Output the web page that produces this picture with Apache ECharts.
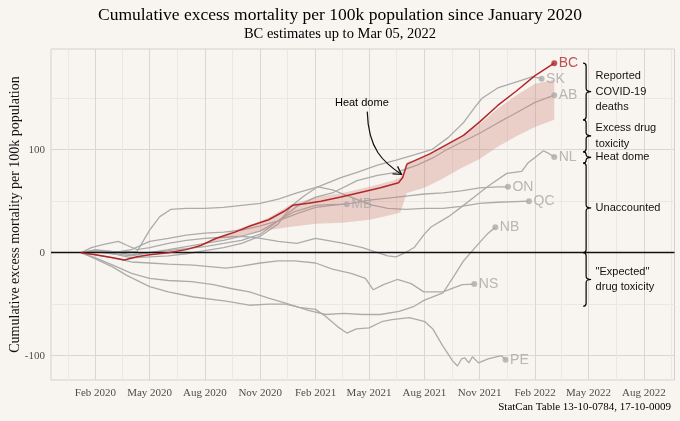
<!DOCTYPE html>
<html><head><meta charset="utf-8">
<script src="https://cdn.jsdelivr.net/npm/echarts@6/dist/echarts.min.js"></script>
<style>html,body{margin:0;padding:0;background:#f8f5f1}#c{width:680px;height:421px}</style>
</head><body><div id="c"></div>
<script>
const titleText = 'Cumulative excess mortality per 100k population since January 2020';
const subtitleText = 'BC estimates up to Mar 05, 2022';
const captionText = 'StatCan Table 13-10-0784, 17-10-0009';
const yAxisTitle = 'Cumulative excess mortality per 100k population';

const xTickDates = ['2020-02-01','2020-05-01','2020-08-01','2020-11-01','2021-02-01','2021-05-01','2021-08-01','2021-11-01','2022-02-01','2022-05-01','2022-08-01'];
const xTickLabels = ['Feb 2020','May 2020','Aug 2020','Nov 2020','Feb 2021','May 2021','Aug 2021','Nov 2021','Feb 2022','May 2022','Aug 2022'];
const xMinorDates = ['2019-12-17','2020-03-17','2020-06-16','2020-09-16','2020-12-16','2021-03-17','2021-06-16','2021-09-16','2021-12-16','2022-03-17','2022-06-16','2022-09-16'];
const xRange = ['2019-11-19','2022-09-21'];
const yTicks = [-100, 0, 100];
const yMinorTicks = [-50, 50, 150];
const yRange = [-123.6, 197.8];

const BC = [['2020-01-08',0],['2020-02-01',-2],['2020-03-01',-5],['2020-03-20',-7],['2020-04-10',-4],['2020-05-01',-2],['2020-06-01',0],['2020-07-01',3],['2020-07-25',7],['2020-08-20',14],['2020-09-20',20],['2020-10-15',26],['2020-11-15',32],['2020-12-10',40],['2020-12-25',46],['2021-01-20',48],['2021-02-10',50],['2021-03-15',54],['2021-04-20',59],['2021-05-20',63],['2021-06-19',68],['2021-06-26',73],['2021-07-03',86],['2021-08-10',96],['2021-09-07',105],['2021-10-05',114],['2021-11-01',127],['2021-12-01',143],['2022-01-01',157],['2022-02-01',172],['2022-03-05',184]];
const SK = [['2020-01-08',0],['2020-02-01',2],['2020-03-01',-1],['2020-04-01',-5],['2020-05-01',-4],['2020-06-01',-3],['2020-07-01',-1],['2020-08-01',2],['2020-09-01',5],['2020-10-01',9],['2020-11-01',16],['2020-12-01',28],['2020-12-22',45],['2021-01-15',56],['2021-02-05',64],['2021-03-15',73],['2021-04-11',78],['2021-05-15',85],['2021-06-15',90],['2021-07-15',95],['2021-08-13',100],['2021-09-10',112],['2021-10-06',127],['2021-10-25',142],['2021-11-05',150],['2021-12-01',160],['2022-01-08',167],['2022-01-28',171],['2022-02-12',169]];
const AB = [['2020-01-08',0],['2020-02-01',1],['2020-03-01',-1],['2020-04-01',-3],['2020-05-01',0],['2020-06-01',3],['2020-07-01',6],['2020-08-01',9],['2020-09-01',12],['2020-10-01',16],['2020-11-01',21],['2020-12-01',31],['2021-01-01',45],['2021-02-01',54],['2021-03-01',58],['2021-04-11',70],['2021-05-15',75],['2021-06-15',78],['2021-07-20',85],['2021-08-15',92],['2021-09-07',100],['2021-10-01',107],['2021-11-01',116],['2021-12-01',126],['2021-12-26',134],['2022-02-01',146],['2022-03-05',153]];
const NL = [['2020-01-08',0],['2020-01-25',5],['2020-02-15',8],['2020-03-10',11],['2020-03-25',7],['2020-04-10',3],['2020-05-01',5],['2020-06-01',9],['2020-07-01',12],['2020-08-01',14],['2020-09-01',15],['2020-10-01',16],['2020-11-01',14],['2020-12-01',11],['2021-01-01',9],['2021-02-01',14],['2021-02-20',12],['2021-03-20',9],['2021-04-20',5],['2021-05-10',1],['2021-06-01',-3],['2021-06-15',-4],['2021-06-30',0],['2021-07-15',5],['2021-08-01',18],['2021-08-12',25],['2021-09-10',35],['2021-10-03',45],['2021-10-25',55],['2021-11-16',65],['2021-12-16',77],['2022-01-10',79],['2022-01-20',87],['2022-02-02',93],['2022-02-15',99],['2022-02-22',97],['2022-03-05',93]];
const ON = [['2020-01-08',0],['2020-02-01',1],['2020-03-01',0],['2020-04-01',3],['2020-05-01',11],['2020-06-01',14],['2020-07-01',17],['2020-08-01',19],['2020-09-01',20],['2020-10-01',22],['2020-11-01',26],['2020-12-01',31],['2021-01-01',38],['2021-02-01',44],['2021-03-01',46],['2021-04-01',48],['2021-05-01',51],['2021-06-01',53],['2021-07-01',55],['2021-08-01',57],['2021-09-01',58],['2021-10-01',60],['2021-11-01',63],['2021-12-01',64],['2021-12-18',64]];
const QC = [['2020-01-08',0],['2020-02-01',2],['2020-03-01',1],['2020-04-10',1],['2020-05-01',22],['2020-05-18',35],['2020-06-05',42],['2020-07-01',43],['2020-08-01',43],['2020-09-01',44],['2020-10-01',46],['2020-11-01',48],['2020-12-01',52],['2021-01-01',58],['2021-02-05',64],['2021-03-01',61],['2021-04-01',54],['2021-05-01',47],['2021-06-01',43],['2021-07-01',42],['2021-08-01',43],['2021-09-01',43],['2021-10-01',45],['2021-11-01',48],['2021-12-01',49],['2022-01-22',50]];
const MB = [['2020-01-08',0],['2020-02-01',3],['2020-03-01',1],['2020-04-01',-2],['2020-05-01',0],['2020-06-01',2],['2020-07-01',4],['2020-08-01',6],['2020-09-01',9],['2020-10-01',12],['2020-11-01',18],['2020-11-15',24],['2020-12-01',31],['2020-12-28',40],['2021-02-01',46],['2021-03-01',47],['2021-03-25',47]];
const NB = [['2020-01-08',0],['2020-02-01',-5],['2020-03-01',-12],['2020-04-01',-20],['2020-05-01',-25],['2020-06-01',-27],['2020-07-10',-28],['2020-08-15',-31],['2020-09-15',-35],['2020-10-14',-38],['2020-11-15',-44],['2020-12-24',-51],['2021-01-20',-56],['2021-02-18',-60],['2021-03-20',-59],['2021-04-20',-60],['2021-05-20',-60],['2021-06-20',-57],['2021-07-15',-52],['2021-08-01',-46],['2021-09-01',-39],['2021-09-20',-22],['2021-10-05',-8],['2021-10-20',2],['2021-11-01',10],['2021-11-15',19],['2021-11-27',24.6]];
const NS = [['2020-01-08',0],['2020-02-01',-2],['2020-03-01',-5],['2020-04-01',-9],['2020-05-01',-10],['2020-06-01',-11],['2020-07-13',-12],['2020-09-05',-15],['2020-10-01',-13],['2020-11-01',-10],['2020-12-01',-8],['2020-12-28',-8],['2021-02-01',-10],['2021-03-01',-16],['2021-04-01',-20],['2021-04-25',-25],['2021-05-08',-36],['2021-05-25',-31],['2021-06-17',-26],['2021-07-10',-30],['2021-07-31',-38],['2021-09-01',-38],['2021-10-03',-31],['2021-10-23',-30.5]];
const PE = [['2020-01-08',0],['2020-02-01',-6],['2020-03-01',-14],['2020-03-24',-22],['2020-05-01',-33],['2020-06-01',-38],['2020-07-13',-43],['2020-09-05',-47],['2020-10-14',-51],['2020-11-15',-50],['2020-12-13',-50],['2021-01-05',-53],['2021-02-01',-55],['2021-02-18',-62],['2021-03-10',-72],['2021-03-25',-78],['2021-04-10',-74],['2021-05-01',-73],['2021-05-22',-67],['2021-06-08',-65],['2021-07-07',-63],['2021-08-02',-67],['2021-08-15',-74],['2021-08-31',-90],['2021-09-17',-105],['2021-09-25',-110],['2021-10-02',-103],['2021-10-07',-102],['2021-10-14',-107],['2021-10-20',-101],['2021-10-30',-107],['2021-11-15',-103],['2021-12-07',-100],['2021-12-14',-104]];

const greyProvinces = {SK, AB, NL, ON, QC, MB, NB, NS, PE};

const bandDates = ['2020-08-15','2020-09-15','2020-10-15','2020-11-15','2020-12-20','2021-02-01','2021-03-18','2021-05-02','2021-06-10','2021-06-22','2021-07-03','2021-08-01','2021-09-01','2021-10-01','2021-11-01','2021-12-01','2022-01-01','2022-02-01','2022-03-05'];
const bandLow  = [11, 15, 19, 22, 25, 28, 29, 32, 37, 39, 58, 63, 72, 82, 91, 103, 113, 122, 129];
const bandHigh = [13, 21, 27, 34, 46, 54, 58, 64, 70, 73, 88, 93, 103, 112, 125, 140, 153, 164, 168];

const braceDate = '2022-04-27';
const braceRanges = [[129,184],[98,129],[87,98],[0,87],[-52,0]];
const braceLabels = ['Reported\nCOVID-19\ndeaths','Excess drug\ntoxicity','Heat dome','Unaccounted','"Expected"\ndrug toxicity'];

const heatDomeLabel = {text: 'Heat dome', at: ['2021-04-19', 145.3]};
const heatDomeArrow = [['2021-04-28', 137], ['2021-06-24', 76]];

const t = d => Date.parse(d + 'T00:00:00Z');
const toXY = arr => arr.map(p => [t(p[0]), p[1]]);
const xTickTs = xTickDates.map(t);

const SERIF = '"Liberation Serif", "Times New Roman", serif';
const SANS = '"Liberation Sans", Arial, Helvetica, sans-serif';
const GREY = '#ababab';
const RED = '#b2282a';

const chart = echarts.init(document.getElementById('c'), null, {renderer: 'canvas'});

const series = [];
Object.keys(greyProvinces).forEach(name => {
  series.push({
    type: 'line', name, data: toXY(greyProvinces[name]), showSymbol: false, symbol: 'none',
    lineStyle: {color: GREY, width: 1.3}, z: 2, silent: true, xAxisIndex: 0, yAxisIndex: 0
  });
});

// BC uncertainty band
series.push({
  type: 'custom', name: 'band', z: 3, silent: true, clip: false,
  data: [[t(bandDates[0]), bandLow[0]]],
  renderItem: (params, api) => {
    const pts = [];
    for (let i = 0; i < bandDates.length; i++) pts.push(api.coord([t(bandDates[i]), bandLow[i]]));
    for (let i = bandDates.length - 1; i >= 0; i--) pts.push(api.coord([t(bandDates[i]), bandHigh[i]]));
    return {type: 'polygon', shape: {points: pts}, style: {fill: 'rgba(206,128,118,0.32)', stroke: null}};
  }
});

// zero line
series.push({
  type: 'line', name: 'zero', data: [], z: 6, silent: true,
  markLine: {symbol: 'none', silent: true, label: {show: false},
    lineStyle: {color: '#111', width: 1.3, type: 'solid'}, data: [{yAxis: 0}]}
});

series.push({
  type: 'line', name: 'BC', data: toXY(BC), showSymbol: false, symbol: 'none',
  lineStyle: {color: RED, width: 1.5}, z: 7, silent: true
});

// end points and labels
const ends = [];
Object.keys(greyProvinces).forEach(name => {
  const arr = greyProvinces[name]; const last = arr[arr.length - 1];
  ends.push({name, value: [t(last[0]), last[1]], itemStyle: {color: GREY}, label: {color: '#a6a6a6'}});
});
ends.push({name: 'BC', value: [t(BC[BC.length-1][0]), BC[BC.length-1][1]], itemStyle: {color: RED}, label: {color: RED}});
series.push({
  type: 'scatter', name: 'ends', data: ends, symbolSize: 6, z: 8, silent: true,
  label: {show: true, position: 'right', distance: 1.5, formatter: '{b}', fontFamily: SANS, fontSize: 14}
});

// braces
series.push({
  type: 'custom', name: 'braces', z: 9, silent: true, clip: false,
  data: braceRanges.map(r => [t(braceDate), r[0], r[1]]),
  renderItem: (params, api) => {
    const pA = api.coord([api.value(0), api.value(1)]);
    const pB = api.coord([api.value(0), api.value(2)]);
    const x = pA[0];
    const top = Math.min(pA[1], pB[1]), bot = Math.max(pA[1], pB[1]), mid = (top + bot) / 2;
    const r = Math.min(3, (bot - top) / 4);
    const tip = 5;
    const d = `M${x-r} ${top} Q${x} ${top} ${x} ${top+r} L${x} ${mid-r} Q${x} ${mid} ${x+tip} ${mid} Q${x} ${mid} ${x} ${mid+r} L${x} ${bot-r} Q${x} ${bot} ${x-r} ${bot}`;
    return {type: 'group', children: [
      {type: 'path', shape: {pathData: d}, style: {stroke: '#000', fill: 'none', lineWidth: 1.2}},
      {type: 'text', style: {text: braceLabels[params.dataIndex], x: x + 9.5, y: mid, fill: '#111',
        font: '11px ' + SANS, align: 'left', verticalAlign: 'middle', lineHeight: 15.5}}
    ]};
  }
});

// heat dome annotation
series.push({
  type: 'custom', name: 'heatdome', z: 9, silent: true, clip: false,
  data: [[t(heatDomeArrow[0][0]), heatDomeArrow[0][1], t(heatDomeArrow[1][0]), heatDomeArrow[1][1]]],
  renderItem: (params, api) => {
    const S = api.coord([api.value(0), api.value(1)]);
    const T = api.coord([api.value(2), api.value(3)]);
    const L = api.coord([t(heatDomeLabel.at[0]), heatDomeLabel.at[1]]);
    const c1 = [S[0] + 1, S[1] + 38], c2 = [T[0] - 18, T[1] - 12];
    let dx = T[0] - c2[0], dy = T[1] - c2[1]; const len = Math.hypot(dx, dy); dx /= len; dy /= len;
    const a = Math.PI / 6, bl = 9;
    const rot = (ang) => [T[0] - bl * (dx * Math.cos(ang) - dy * Math.sin(ang)), T[1] - bl * (dx * Math.sin(ang) + dy * Math.cos(ang))];
    const b1 = rot(a), b2 = rot(-a);
    return {type: 'group', children: [
      {type: 'bezierCurve', shape: {x1: S[0], y1: S[1], x2: T[0], y2: T[1], cpx1: c1[0], cpy1: c1[1], cpx2: c2[0], cpy2: c2[1]},
        style: {stroke: '#111', fill: 'none', lineWidth: 1.2}},
      {type: 'polyline', shape: {points: [b1, T, b2]}, style: {stroke: '#111', fill: 'none', lineWidth: 1.2}},
      {type: 'text', style: {text: heatDomeLabel.text, x: L[0], y: L[1], fill: '#000', font: '11px ' + SANS,
        align: 'center', verticalAlign: 'middle'}}
    ]};
  }
});

const option = {
  animation: false,
  backgroundColor: '#f8f5f1',
  grid: {left: 51, right: 5.5, top: 49, bottom: 41, show: true, borderColor: '#d3d0cd', borderWidth: 1,
    backgroundColor: 'transparent', containLabel: false, outerBoundsMode: 'none'},
  graphic: [
    {type: 'text', left: 'center', top: 6, style: {text: titleText, font: '17.5px ' + SERIF, fill: '#000'}},
    {type: 'text', left: 'center', top: 27, style: {text: subtitleText, font: '14.5px ' + SERIF, fill: '#000'}},
    {type: 'text', right: 9, top: 402, style: {text: captionText, font: '11px ' + SERIF, fill: '#000'}}
  ],
  xAxis: [
    {type: 'value', min: t(xRange[0]), max: t(xRange[1]),
      axisLine: {show: false}, axisTick: {show: false, customValues: xTickTs},
      axisLabel: {customValues: xTickTs, margin: 8, fontFamily: SERIF, fontSize: 11, color: '#4d4d4d',
        formatter: v => { const i = xTickTs.indexOf(v); return i >= 0 ? xTickLabels[i] : ''; }},
      splitLine: {show: true, lineStyle: {color: '#d9d6d3', width: 1}}},
    {type: 'value', min: t(xRange[0]), max: t(xRange[1]), position: 'bottom',
      axisLine: {show: false}, axisTick: {show: false, customValues: xMinorDates.map(t)},
      axisLabel: {show: false, customValues: xMinorDates.map(t)},
      splitLine: {show: true, lineStyle: {color: '#ebe8e4', width: 1}}}
  ],
  yAxis: [
    {type: 'value', min: yRange[0], max: yRange[1],
      name: yAxisTitle, nameLocation: 'middle', nameGap: 29, nameMoveOverlap: false,
      nameTextStyle: {fontFamily: SERIF, fontSize: 14, color: '#111'},
      axisLine: {show: false}, axisTick: {show: false, customValues: yTicks},
      axisLabel: {customValues: yTicks, margin: 6, fontFamily: SERIF, fontSize: 11, color: '#4d4d4d'},
      splitLine: {show: true, lineStyle: {color: '#d9d6d3', width: 1}}},
    {type: 'value', min: yRange[0], max: yRange[1], position: 'left',
      axisLine: {show: false}, axisTick: {show: false, customValues: yMinorTicks},
      axisLabel: {show: false, customValues: yMinorTicks},
      splitLine: {show: true, lineStyle: {color: '#ebe8e4', width: 1}}}
  ],
  series
};
chart.setOption(option);
</script></body></html>
